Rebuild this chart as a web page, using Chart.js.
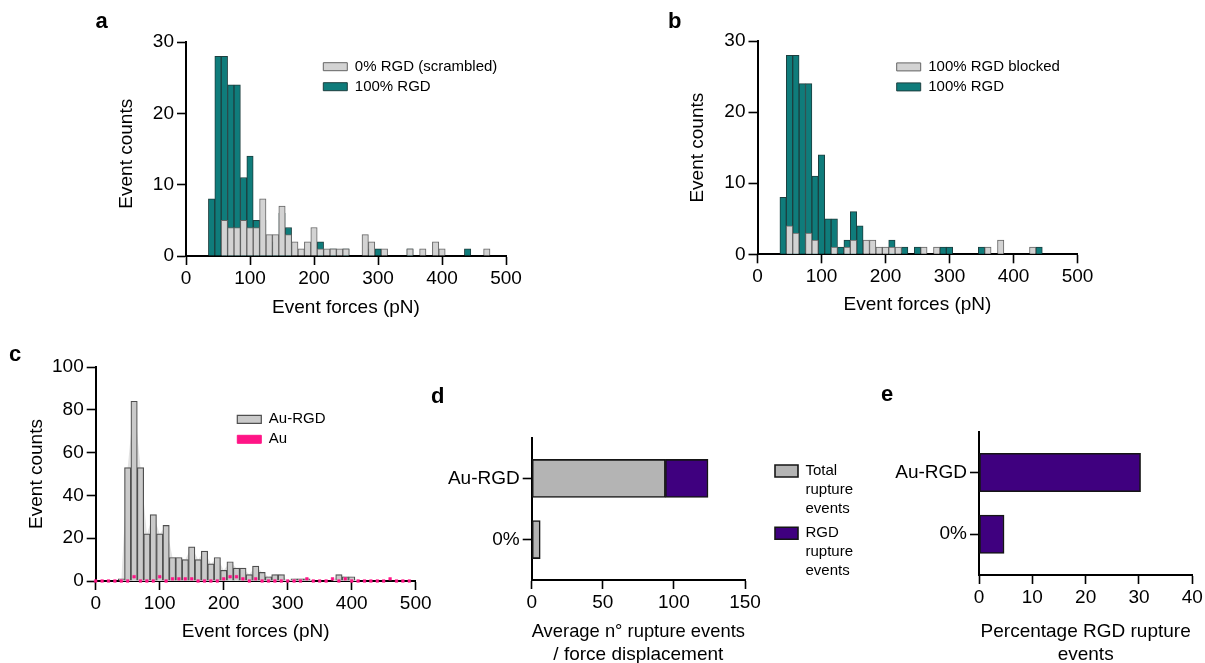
<!DOCTYPE html>
<html><head><meta charset="utf-8">
<script src="https://cdn.jsdelivr.net/npm/chart.js@4.4.1/dist/chart.umd.min.js"></script>
<style>
html,body{margin:0;padding:0;background:#fff;}
#fig{position:relative;width:1205px;height:663px;overflow:hidden;background:#fff;}
#fig canvas{position:absolute;left:0;top:0;}
.pl{position:absolute;font:bold 22px "Liberation Sans",Arial,sans-serif;line-height:22px;color:#000;}
</style></head>
<body><div id="fig">
<canvas id="cA" width="1205" height="663"></canvas>
<canvas id="cB" width="1205" height="663"></canvas>
<canvas id="cC" width="1205" height="663"></canvas>
<canvas id="cD" width="1205" height="663"></canvas>
<canvas id="cE" width="1205" height="663"></canvas>
<div class="pl" style="left:95.5px;top:9.7px">a</div>
<div class="pl" style="left:668px;top:10.4px">b</div>
<div class="pl" style="left:9px;top:343.4px">c</div>
<div class="pl" style="left:431px;top:384.7px">d</div>
<div class="pl" style="left:881px;top:383px">e</div>
</div>
<script>
const FONT = '"Liberation Sans", Arial, Helvetica, sans-serif';

// ---- Panels a & b: histogram bin centres (pN) and counts ----
const forceBins = [40,50,60,70,80,90,100,110,120,130,140,150,160,170,180,190,200,210,220,230,240,250,260,270,280,290,300,310,320,330,340,350,360,370,380,390,400,410,420,430,440,450,460,470];
const rgd100 = [8,28,28,24,24,11,14,5,5,1, 2,6,4,0,0,0,0,2,0,1, 0,1,0,0,0,1,1,0,0,0, 0,1,0,0,0,0,0,0,0,0, 1,0,0,0];
const rgdScrambled = [0,0,5,4,4,5,4,4,8,3, 3,7,3,2,1,2,4,1,1,1, 1,1,0,0,3,2,0,1,0,0, 0,1,0,1,0,2,1,0,0,0, 0,0,0,1];
const rgdBlocked = [0,4,3,0,3,2,0,0,1,0, 1,2,0,2,2,1,1,1,1,0, 0,0,1,0,1,0,0,0,0,0, 0,0,1,0,2,0,0,0,0,1, 0,0,0,0];

// ---- Panel c ----
const cBins = [40,50,60,70,80,90,100,110,120,130,140,150,160,170,180,190,200,210,220,230,240,250,260,270,280,290,300,310,320,330,340,350,360,370,380,390,400,410,420];
const auRgdCounts = [1,53,84,53,22,31,22,26,11,11,10,16,10,14,8,11,5,9,6,6,3,7,4,2,3,3,0,1,1,1,0,0,0,0,3,2,2,0,0];
const auBins = [0,10,20,30,40,50,60,70,80,90,100,110,120,130,140,150,160,170,180,190,200,210,220,230,240,250,260,270,280,290,300,310,320,330,340,350,360,370,380,390,400,410,420,430,440,450,460,470,480,490];
const auCounts = [0,0,0,0,0,0,2,0,0,0, 2,0,1,1,1,1,0,0,0,0, 1,2,2,1,0,1,0,0,0,0, 0,0,0,1,0,0,0,1,0,1, 0,0,0,0,0,0,1,0,0,0];

// ---- Panels d & e ----
const groups = ['Au-RGD', '0%'];
const totalRupture = [94, 6];
const rgdRupture = [30, 0];
const rgdPercentage = [30.3, 4.7];
const dLegendText = [['Total', 'rupture', 'events'], ['RGD', 'rupture', 'events']];

const TEAL = '#0f7c7b', TEAL_EDGE = '#1d3f3f';
const LGRAY = '#d3d3d3', LGRAY_EDGE = '#646464';
const CGRAY = '#cacaca', CGRAY_EDGE = '#4f4f4f';
const DGRAY = '#b4b4b4';
const PURPLE = '#3f007f';
const MAGENTA = '#ff1486';

Chart.defaults.font.family = FONT;
Chart.defaults.color = '#000';
Chart.defaults.animation = false;

const W = 1205, H = 663;

function gridCfg() {
  return { display: true, drawOnChartArea: false, drawTicks: true, tickLength: 9, tickWidth: 1.6, tickColor: '#000', color: '#000', offset: false };
}
function borderCfg() { return { display: true, color: '#000', width: 2 }; }

function xAxis(min, max, step, text, height, titleLH, titlePadBottom) {
  return {
    type: 'linear', position: 'bottom', min, max, offset: false,
    grid: gridCfg(), border: borderCfg(),
    ticks: { stepSize: step, padding: 2, color: '#000', font: { size: 19 }, maxRotation: 0, autoSkip: false },
    title: { display: true, text, color: '#000', font: { size: 19, lineHeight: titleLH || 1.2 }, padding: { top: 0, bottom: titlePadBottom || 0 } },
    afterFit(s) { s.height = height; }
  };
}
function yCount(max, step, width, titleText) {
  return {
    type: 'linear', min: 0, max, offset: false,
    grid: gridCfg(), border: borderCfg(),
    ticks: { stepSize: step, padding: 3, color: '#000', font: { size: 19 } },
    title: { display: true, text: titleText || 'Event counts', color: '#000', font: { size: 19 }, padding: { top: 0, bottom: 0 } },
    afterFit(s) { s.width = width; }
  };
}
function yGroups(width) {
  return {
    type: 'linear', reverse: true, min: 0.34, max: 2.66, offset: false, stacked: true,
    grid: gridCfg(), border: borderCfg(),
    afterBuildTicks(s) { s.ticks = groups.map((g, i) => ({ value: i + 1 })); },
    ticks: { padding: 3, color: '#000', font: { size: 19 }, autoSkip: false, callback: (v) => groups[v - 1] },
    afterFit(s) { s.width = width; }
  };
}
function legendCfg(extra) {
  return {
    display: true, position: 'chartArea', align: 'start',
    labels: Object.assign({ boxWidth: 24, boxHeight: 8, padding: 5, color: '#000', font: { size: 15 },
      sort: (a, b) => a.datasetIndex - b.datasetIndex }, extra || {})
  };
}
function legendAt(x, y) {
  return {
    id: 'legendAt',
    afterLayout(chart) {
      const l = chart.legend; if (!l) return;
      const w = l.width, h = l.height;
      l.left = x; l.top = y; l.right = x + w; l.bottom = y + h;
    }
  };
}
function pts(xs, ys) { return xs.map((x, i) => ({ x, y: ys[i] })); }
function histSet(label, xs, ys, bg, edge, order, bw) {
  return { type: 'bar', label, data: pts(xs, ys), backgroundColor: bg, borderColor: edge, borderWidth: bw || 1,
    grouped: false, barPercentage: 1, categoryPercentage: 1, order };
}

function frame(A, padLeft, xH) {
  return { left: padLeft, top: A.t, right: W - A.r, bottom: H - A.b - xH };
}

// ---------- Panel a ----------
(function () {
  const A = { l: 186, r: 506, t: 42, b: 256 }, padL = 115.3, xH = 63.4;
  new Chart(document.getElementById('cA'), {
    type: 'bar',
    data: { datasets: [
      histSet('0% RGD (scrambled)', forceBins, rgdScrambled, LGRAY, LGRAY_EDGE, 0),
      histSet('100% RGD', forceBins, rgd100, TEAL, TEAL_EDGE, 1)
    ] },
    options: {
      responsive: false, devicePixelRatio: 1, events: [],
      layout: { padding: frame(A, padL, xH) },
      scales: { x: xAxis(0, 500, 100, 'Event forces (pN)', xH), y: yCount(30, 10, A.l - padL, 'Event counts\u2002') },
      plugins: { legend: legendCfg(), tooltip: { enabled: false } }
    },
    plugins: [legendAt(318.3, 54.2)]
  });
})();

// ---------- Panel b ----------
(function () {
  const A = { l: 757.5, r: 1077.5, t: 41, b: 254.3 }, padL = 686.6, xH = 62.1;
  new Chart(document.getElementById('cB'), {
    type: 'bar',
    data: { datasets: [
      histSet('100% RGD blocked', forceBins, rgdBlocked, LGRAY, LGRAY_EDGE, 0),
      histSet('100% RGD', forceBins, rgd100, TEAL, TEAL_EDGE, 1)
    ] },
    options: {
      responsive: false, devicePixelRatio: 1, events: [],
      layout: { padding: frame(A, padL, xH) },
      scales: { x: xAxis(0, 500, 100, 'Event forces (pN)', xH), y: yCount(30, 10, A.l - padL) },
      plugins: { legend: legendCfg(), tooltip: { enabled: false } }
    },
    plugins: [legendAt(891.7, 54.4)]
  });
})();

// ---------- Panel c ----------
(function () {
  const A = { l: 95.7, r: 415.7, t: 367, b: 581 }, padL = 25.6, xH = 62.4;
  new Chart(document.getElementById('cC'), {
    type: 'bar',
    data: { datasets: [
      histSet('Au-RGD', cBins, auRgdCounts, CGRAY, CGRAY_EDGE, 1, 1.2),
      { type: 'line', label: 'Au', data: pts(auBins, auCounts), showLine: false, pointStyle: 'rect',
        pointRadius: 1.9, pointBackgroundColor: MAGENTA, pointBorderColor: MAGENTA, pointBorderWidth: 0.5,
        backgroundColor: MAGENTA, borderColor: MAGENTA, borderWidth: 1, clip: false, order: 0 },
      { type: 'line', label: 'Au-RGD profile', data: pts(cBins, auRgdCounts), fill: 'origin',
        backgroundColor: '#e3e3e3', borderWidth: 0, pointRadius: 0, tension: 0, order: 2 }
    ] },
    options: {
      responsive: false, devicePixelRatio: 1, events: [],
      layout: { padding: frame(A, padL, xH) },
      scales: { x: xAxis(0, 500, 100, 'Event forces (pN)', xH), y: yCount(100, 20, A.l - padL) },
      plugins: { legend: legendCfg({ filter: (it) => it.datasetIndex < 2 }), tooltip: { enabled: false } }
    },
    plugins: [legendAt(232.3, 406.8)]
  });
})();

// ---------- Panel d ----------
(function () {
  const A = { l: 531.7, r: 745, t: 438, b: 580 }, padL = 400, xH = 83;
  const xa = xAxis(0, 150, 50, ['Average n\u00B0 rupture events', '/ force displacement'], xH, 1.25, -4);
  xa.stacked = true;
  new Chart(document.getElementById('cD'), {
    type: 'bar',
    data: { datasets: [
      { label: 'Total rupture events', data: totalRupture.map((v, i) => ({ x: v, y: i + 1 })),
        backgroundColor: DGRAY, borderColor: '#151515', borderWidth: 1.6, borderSkipped: false, barThickness: 38 },
      { label: 'RGD rupture events', data: rgdRupture.map((v, i) => ({ x: v, y: i + 1 })),
        backgroundColor: PURPLE, borderColor: '#151515', borderWidth: 1.6, borderSkipped: false, barThickness: 38 }
    ] },
    options: {
      indexAxis: 'y', responsive: false, devicePixelRatio: 1, events: [],
      layout: { padding: frame(A, padL, xH) },
      scales: { x: xa, y: yGroups(A.l - padL) },
      plugins: {
        legend: legendCfg({ boxWidth: 23, boxHeight: 12, padding: 6, font: { size: 15, lineHeight: 1.25 },
          generateLabels(chart) {
            const items = Chart.defaults.plugins.legend.labels.generateLabels(chart);
            items.forEach((it) => { it.text = dLegendText[it.datasetIndex]; });
            return items;
          } }),
        tooltip: { enabled: false }
      }
    },
    plugins: [legendAt(769, 457.5)]
  });
})();

// ---------- Panel e ----------
(function () {
  const A = { l: 979, r: 1192.3, t: 431.7, b: 575 }, padL = 850, xH = 88;
  new Chart(document.getElementById('cE'), {
    type: 'bar',
    data: { datasets: [
      { label: 'Percentage RGD rupture events', data: rgdPercentage.map((v, i) => ({ x: v, y: i + 1 })),
        backgroundColor: PURPLE, borderColor: '#151515', borderWidth: 1.6, borderSkipped: false, barThickness: 38.5 }
    ] },
    options: {
      indexAxis: 'y', responsive: false, devicePixelRatio: 1, events: [],
      layout: { padding: frame(A, padL, xH) },
      scales: { x: xAxis(0, 40, 10, ['Percentage RGD rupture', 'events'], xH, 1.25, -4), y: yGroups(A.l - padL) },
      plugins: { legend: { display: false }, tooltip: { enabled: false } }
    }
  });
})();
</script>
</body></html>
